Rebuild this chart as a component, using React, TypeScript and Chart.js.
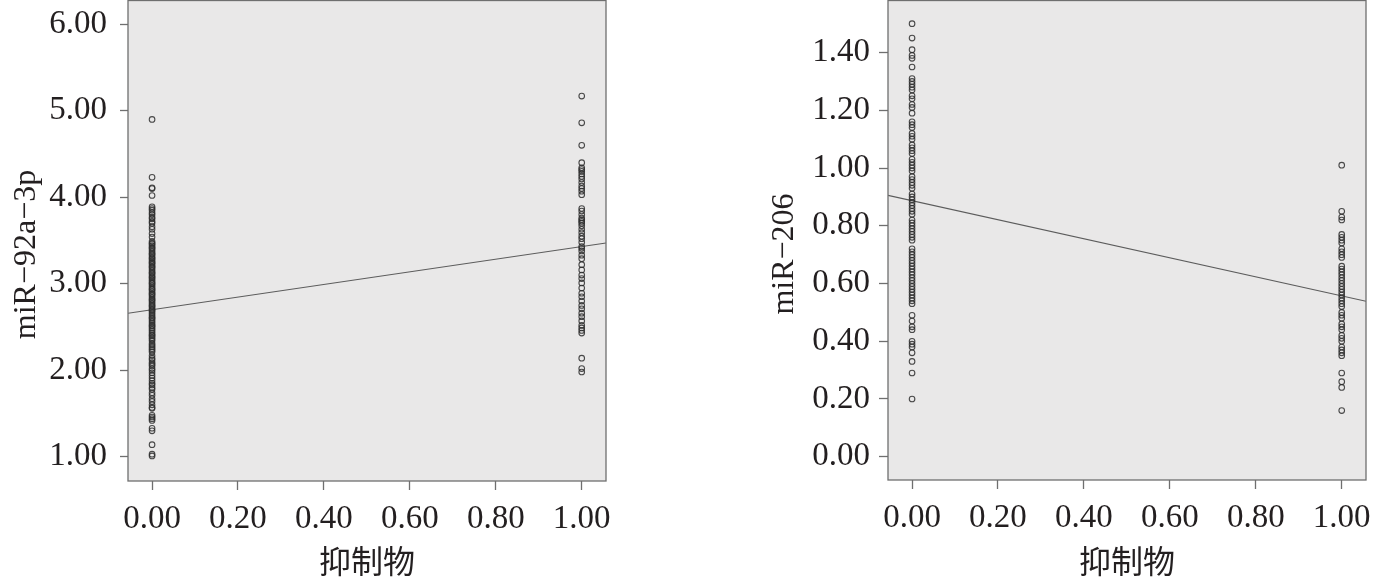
import React, { useEffect, useRef } from "react";
import { Chart, registerables } from "chart.js";

Chart.register(...registerables);

// ---------- data ----------
const X_TICKS = [0, 0.2, 0.4, 0.6, 0.8, 1.0];
const X_RANGE = [-0.056, 1.0565];
const X_TITLE = "抑制物";

const LEFT_Y_TITLE = "miR−92a−3p";
const LEFT_Y_TICKS = [1, 2, 3, 4, 5, 6];
const LEFT_Y_RANGE = [0.72, 6.28];
const LEFT_FIT = [2.70, 0.73]; // intercept, slope
const LEFT_G0 = [
  4.90, 4.23, 4.11, 4.10, 4.02, 3.89, 3.87, 3.85, 3.82, 3.80, 3.77, 3.75, 3.72, 3.70, 3.66,
  3.63, 3.58, 3.54, 3.49, 3.47, 3.46, 3.44, 3.42, 3.41, 3.39, 3.37, 3.35, 3.34, 3.32, 3.30,
  3.29, 3.27, 3.25, 3.24, 3.22, 3.20, 3.19, 3.17, 3.15, 3.13, 3.12, 3.10, 3.08, 3.07, 3.05,
  3.03, 3.01, 3.00, 2.98, 2.96, 2.94, 2.93, 2.91, 2.89, 2.88, 2.86, 2.84, 2.82, 2.81, 2.79,
  2.77, 2.75, 2.74, 2.72, 2.70, 2.69, 2.67, 2.65, 2.63, 2.61, 2.60, 2.58, 2.56, 2.54, 2.52,
  2.51, 2.49, 2.47, 2.45, 2.43, 2.41, 2.40, 2.38, 2.36, 2.34, 2.31, 2.29, 2.27, 2.25, 2.23,
  2.21, 2.17, 2.14, 2.12, 2.09, 2.07, 2.05, 2.02, 2.00, 1.97, 1.94, 1.91, 1.88, 1.85, 1.83,
  1.80, 1.78, 1.74, 1.71, 1.67, 1.64, 1.60, 1.57, 1.56, 1.48, 1.46, 1.44, 1.42, 1.33, 1.30,
  1.14, 1.03, 1.01,
];
const LEFT_G1 = [
  5.17, 4.86, 4.60, 4.40, 4.34, 4.32, 4.30, 4.27, 4.24, 4.21, 4.17, 4.13, 4.10, 4.07, 4.03,
  3.87, 3.84, 3.80, 3.76, 3.74, 3.72, 3.70, 3.67, 3.63, 3.59, 3.55, 3.52, 3.48, 3.43, 3.41,
  3.38, 3.33, 3.29, 3.22, 3.16, 3.10, 3.06, 3.01, 2.95, 2.89, 2.85, 2.80, 2.75, 2.71, 2.66,
  2.62, 2.57, 2.52, 2.49, 2.46, 2.43, 2.14, 2.02, 1.98,
];

const RIGHT_Y_TITLE = "miR−206";
const RIGHT_Y_TICKS = [0, 0.2, 0.4, 0.6, 0.8, 1.0, 1.2, 1.4];
const RIGHT_Y_RANGE = [-0.0806, 1.582];
const RIGHT_FIT = [0.887, -0.33];
const RIGHT_G0 = [
  1.50, 1.45, 1.41, 1.39, 1.38, 1.35, 1.31, 1.30, 1.29, 1.28, 1.27, 1.25, 1.24, 1.22, 1.21,
  1.19, 1.16, 1.15, 1.14, 1.12, 1.11, 1.10, 1.08, 1.07, 1.06, 1.05, 1.03, 1.02, 1.01, 1.00,
  0.99, 0.97, 0.96, 0.95, 0.94, 0.93, 0.91, 0.90, 0.89, 0.88, 0.87, 0.86, 0.85, 0.84, 0.82,
  0.81, 0.80, 0.79, 0.78, 0.77, 0.76, 0.75, 0.72, 0.71, 0.70, 0.69, 0.68, 0.67, 0.66, 0.65,
  0.64, 0.63, 0.62, 0.61, 0.60, 0.59, 0.58, 0.57, 0.56, 0.55, 0.54, 0.53, 0.49, 0.47, 0.45,
  0.44, 0.40, 0.39, 0.38, 0.36, 0.33, 0.29, 0.20,
];
const RIGHT_G1 = [
  1.01, 0.85, 0.83, 0.82, 0.77, 0.76, 0.75, 0.74, 0.72, 0.71, 0.70, 0.69, 0.66, 0.65, 0.64,
  0.63, 0.62, 0.61, 0.60, 0.59, 0.58, 0.57, 0.56, 0.55, 0.54, 0.53, 0.52, 0.50, 0.49, 0.48,
  0.46, 0.45, 0.44, 0.42, 0.41, 0.40, 0.38, 0.37, 0.36, 0.35, 0.29, 0.26, 0.24, 0.16,
];

// ---------- styles ----------
const PANEL_BG = "#e9e8e8";
const BORDER = "#6f6f6f";
const POINT = "rgba(45,45,45,0.85)";
const FIT_LINE = "#5c5c5c";
const TEXT = "#231f20";
const SERIF = "'Liberation Serif', 'DejaVu Serif', serif";
const CJK = "'Noto Sans CJK SC', sans-serif";
const TICK_SIZE = 33;

type Panel = {
  g0: number[];
  g1: number[];
  fit: number[];
  yTicks: number[];
  yRange: number[];
  yTitle: string;
  yWidth: number;
  padRight: number;
  xHeight: number;
  yTickLen: number;
  yTickPad: number;
  titleGap: number;
};

const panelPlugin = {
  id: "panel",
  beforeDraw(chart: any) {
    const { ctx, chartArea: a } = chart;
    ctx.save();
    ctx.fillStyle = PANEL_BG;
    ctx.fillRect(a.left, a.top, a.right - a.left, a.bottom - a.top);
    ctx.restore();
  },
  afterDraw(chart: any, _a: any, opts: any) {
    const { ctx, chartArea: a } = chart;
    ctx.save();
    ctx.strokeStyle = BORDER;
    ctx.lineWidth = 1.3;
    ctx.strokeRect(a.left, a.top + 0.5, a.right - a.left, a.bottom - a.top - 0.5);
    // y title
    ctx.fillStyle = TEXT;
    ctx.font = `32px ${SERIF}`;
    ctx.textAlign = "center";
    ctx.textBaseline = "alphabetic";
    ctx.translate(a.left - opts.gap, (a.top + a.bottom) / 2 + 14);
    ctx.rotate(-Math.PI / 2);
    ctx.fillText(opts.text, 0, 0);
    ctx.restore();
  },
};

function makeConfig(p: Panel): any {
  const line = [X_RANGE[0], X_RANGE[1]].map((x) => ({ x, y: p.fit[0] + p.fit[1] * x }));
  const pointStyle = {
    type: "scatter",
    pointRadius: 2.8,
    pointBorderWidth: 1.1,
    borderColor: POINT,
    backgroundColor: "rgba(0,0,0,0)",
    pointHoverRadius: 2.8,
  };
  return {
    type: "scatter",
    data: {
      datasets: [
        { ...pointStyle, data: p.g0.map((y) => ({ x: 0, y })) },
        { ...pointStyle, data: p.g1.map((y) => ({ x: 1, y })) },
        {
          type: "scatter",
          showLine: true,
          data: line,
          borderColor: FIT_LINE,
          borderWidth: 1.1,
          pointRadius: 0,
          pointHoverRadius: 0,
        },
      ],
    },
    options: {
      responsive: false,
      animation: false,
      devicePixelRatio: 1,
      events: [],
      layout: { autoPadding: false, padding: { left: 0, right: p.padRight, top: 0, bottom: 0 } },
      plugins: {
        legend: { display: false },
        tooltip: { enabled: false },
        panel: { text: p.yTitle, gap: p.titleGap },
      },
      scales: {
        x: {
          type: "linear",
          min: X_RANGE[0],
          max: X_RANGE[1],
          afterBuildTicks: (s: any) => {
            s.ticks = X_TICKS.map((value) => ({ value }));
          },
          afterFit: (s: any) => {
            s.height = p.xHeight;
            s.paddingLeft = 0;
            s.paddingRight = 0;
          },
          border: { display: false },
          grid: { drawOnChartArea: false, drawTicks: true, tickLength: 9, tickColor: BORDER, tickWidth: 1.3 },
          ticks: {
            padding: 10,
            color: TEXT,
            font: { family: SERIF, size: TICK_SIZE },
            maxRotation: 0,
            autoSkip: false,
            callback: (v: number) => Number(v).toFixed(2),
          },
          title: {
            display: true,
            text: X_TITLE,
            color: TEXT,
            font: { family: CJK, size: 32 },
            padding: { top: 0, bottom: 0 },
          },
        },
        y: {
          type: "linear",
          min: p.yRange[0],
          max: p.yRange[1],
          afterBuildTicks: (s: any) => {
            s.ticks = p.yTicks.map((value) => ({ value }));
          },
          afterFit: (s: any) => {
            s.width = p.yWidth;
            s.paddingTop = 0;
            s.paddingBottom = 0;
          },
          border: { display: false },
          grid: { drawOnChartArea: false, drawTicks: true, tickLength: p.yTickLen, tickColor: BORDER, tickWidth: 1.3 },
          ticks: {
            padding: p.yTickPad,
            color: TEXT,
            font: { family: SERIF, size: TICK_SIZE },
            autoSkip: false,
            callback: (v: number) => Number(v).toFixed(2),
          },
        },
      },
    },
    plugins: [panelPlugin],
  };
}

const LEFT_PANEL: Panel = {
  g0: LEFT_G0,
  g1: LEFT_G1,
  fit: LEFT_FIT,
  yTicks: LEFT_Y_TICKS,
  yRange: LEFT_Y_RANGE,
  yTitle: LEFT_Y_TITLE,
  yWidth: 128,
  padRight: 86,
  xHeight: 99,
  yTickLen: 8,
  yTickPad: 13,
  titleGap: 93,
};

const RIGHT_PANEL: Panel = {
  g0: RIGHT_G0,
  g1: RIGHT_G1,
  fit: RIGHT_FIT,
  yTicks: RIGHT_Y_TICKS,
  yRange: RIGHT_Y_RANGE,
  yTitle: RIGHT_Y_TITLE,
  yWidth: 196,
  padRight: 19,
  xHeight: 100,
  yTickLen: 9,
  yTickPad: 9,
  titleGap: 95,
};

function ChartPanel({ panel, left, width }: { panel: Panel; left: number; width: number }) {
  const ref = useRef<HTMLCanvasElement | null>(null);
  useEffect(() => {
    if (!ref.current) return;
    const chart = new Chart(ref.current, makeConfig(panel));
    return () => chart.destroy();
  }, [panel]);
  return (
    <canvas
      ref={ref}
      width={width}
      height={580}
      style={{ position: "absolute", left, top: 0, width, height: 580 }}
    />
  );
}

export default function App() {
  return (
    <div style={{ position: "fixed", left: 0, top: 0, width: 1385, height: 580, background: "#fff" }}>
      <ChartPanel panel={LEFT_PANEL} left={0} width={692} />
      <ChartPanel panel={RIGHT_PANEL} left={692} width={693} />
    </div>
  );
}
